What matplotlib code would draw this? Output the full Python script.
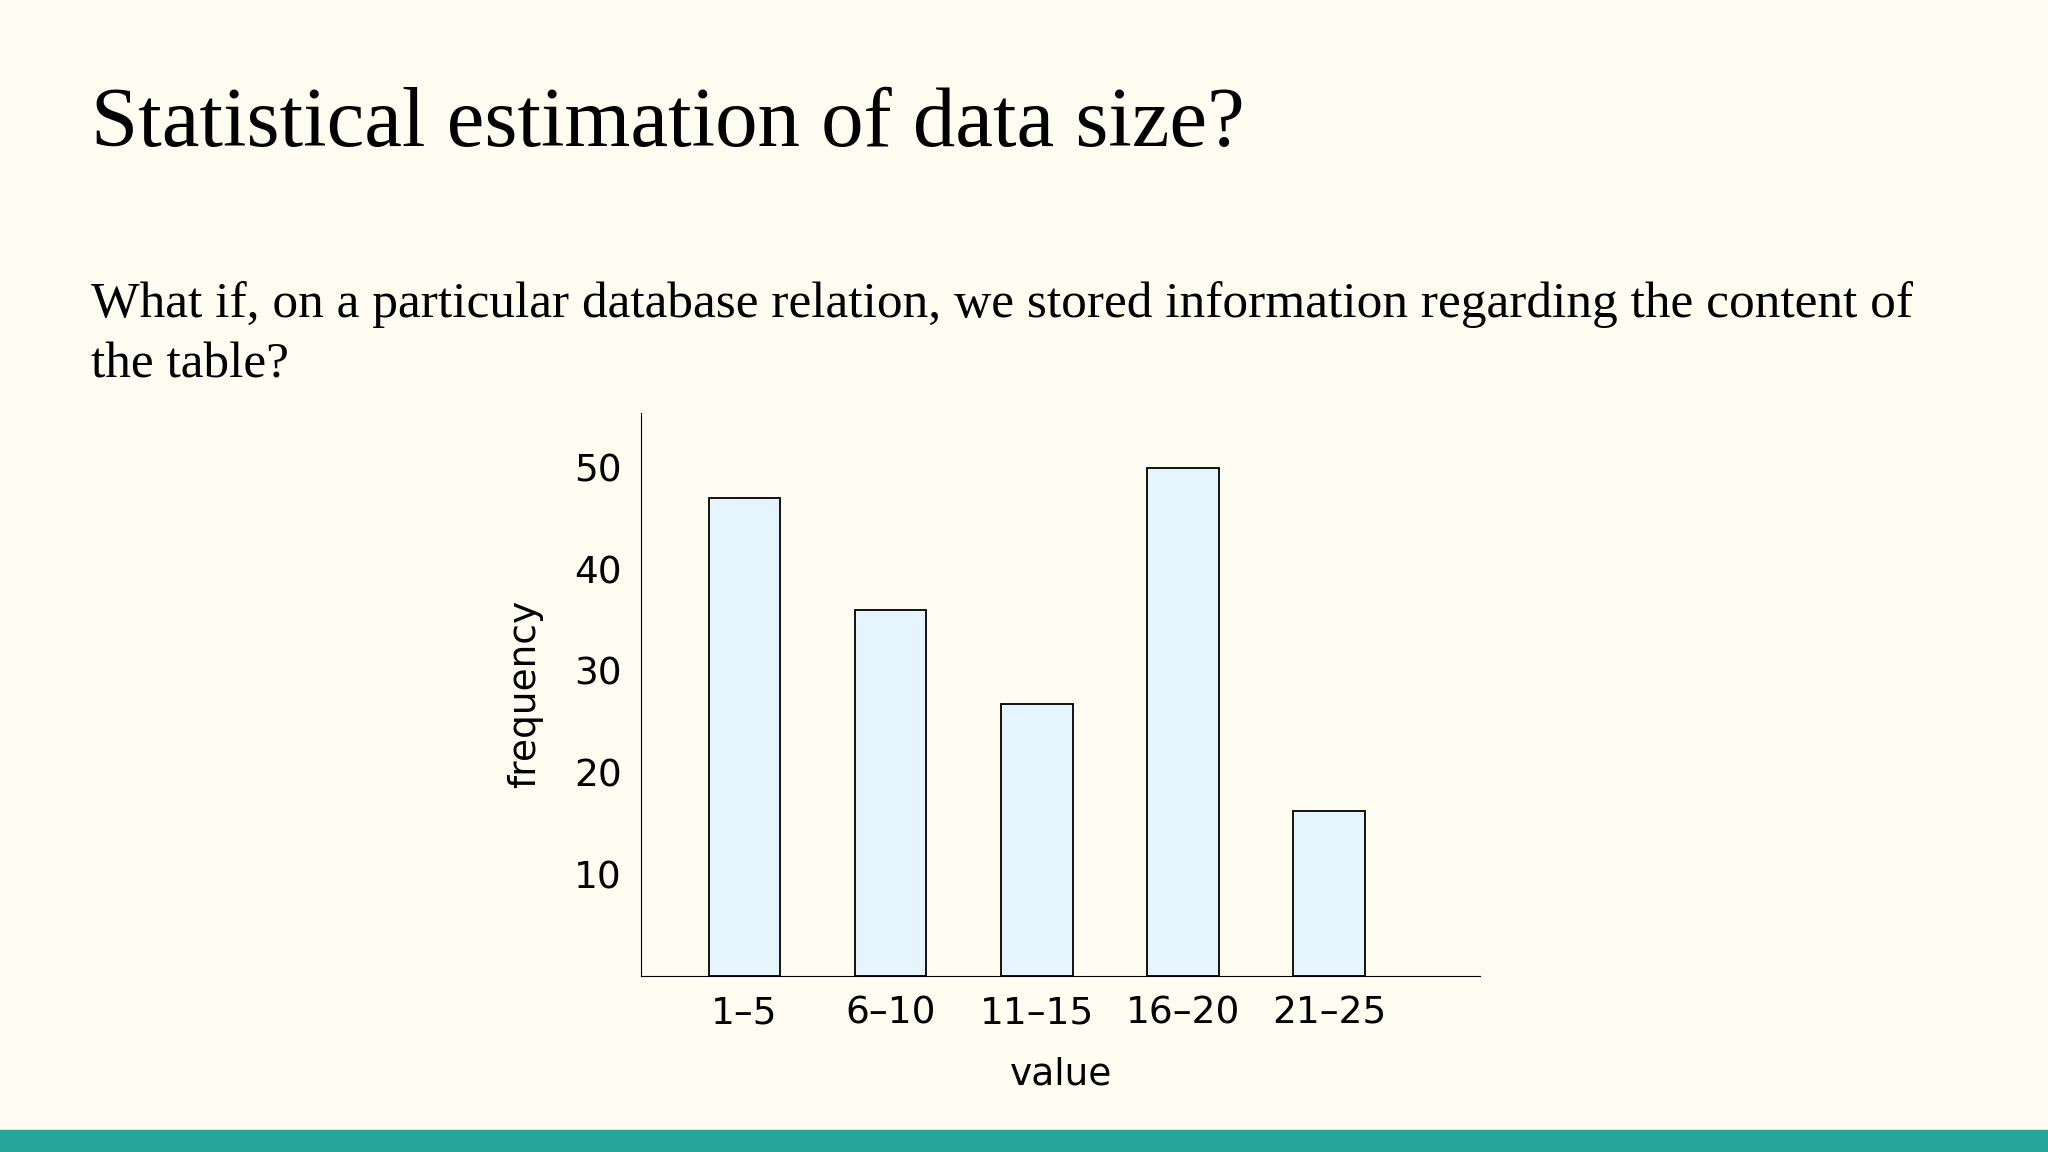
import matplotlib.pyplot as plt
from matplotlib.patches import Rectangle

categories = ['1–5', '6–10', '11–15', '16–20', '21–25']
frequency = [47, 36, 26.7, 50, 16.2]
yticks = [10, 20, 30, 40, 50]

W, H = 1568, 882  # layout measured in reference pixels
fig = plt.figure(figsize=(20.48, 11.52), dpi=100)
fig.patch.set_facecolor('#fefcf0')

# teal strip at the bottom
fig.add_artist(Rectangle((0, 0), 1, 17 / H, transform=fig.transFigure,
                         color='#26a69a', zorder=0))

fig.text(70 / W, 1 - 112 / H, 'Statistical estimation of data size?',
         family='Liberation Serif', fontsize=61, va='baseline')
fig.text(70 / W, 1 - 243 / H,
         'What if, on a particular database relation, we stored information regarding the content of',
         family='Liberation Serif', fontsize=37, va='baseline')
fig.text(70 / W, 1 - 289 / H, 'the table?',
         family='Liberation Serif', fontsize=37, va='baseline')

ax = fig.add_axes([491 / W, 1 - 747 / H, (1133 - 491) / W, (747 - 316) / H])
ax.set_facecolor('none')
x = range(len(categories))
ax.bar(x, frequency, width=0.49, color='#e6f4fd', edgecolor='black', linewidth=1.3)
ax.set_xlim(-0.705, 5.03)
ax.set_ylim(0, 55.4)
ax.set_xticks(list(x), categories)
ax.set_yticks(yticks)
ax.tick_params(length=0, labelsize=27, pad=14)
for s in ['top', 'right']:
    ax.spines[s].set_visible(False)
ax.set_xlabel('value', fontsize=27, labelpad=18)
ax.set_ylabel('frequency', fontsize=27, labelpad=22)

fig.savefig('out.png', dpi=100, facecolor=fig.get_facecolor())
